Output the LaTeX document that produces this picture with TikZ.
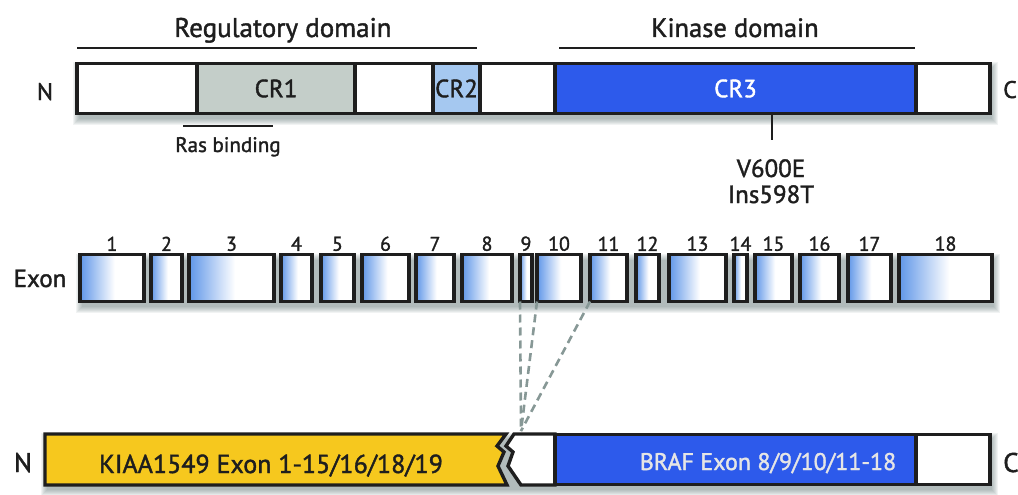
\documentclass[tikz,border=0pt]{standalone}
\usepackage{fontspec}
\setmainfont{PT Sans}[FakeBold=1.5]
\usetikzlibrary{positioning,backgrounds}

\definecolor{inkgray}{RGB}{30,30,30}
\definecolor{crgray}{RGB}{196,206,201}
\definecolor{crblue}{RGB}{165,200,240}
\definecolor{kinblue}{RGB}{45,90,235}
\definecolor{kiayellow}{RGB}{246,200,30}
\definecolor{exblue}{RGB}{95,150,232}
\definecolor{dashgray}{RGB}{135,152,150}
\definecolor{shadowtint}{RGB}{60,85,85}

% blue edge fading to white over the first half of each exon
\pgfdeclarehorizontalshading{exonfade}{100bp}{color(0bp)=(exblue); color(25bp)=(exblue); color(52bp)=(white); color(100bp)=(white)}

% soft shadow under a bar given by its top left and bottom right corners
\newcommand{\barshadow}[2]{%
    \foreach \k in {0,...,6} {
        \fill [shadowtint, opacity=0.07]
            ([xshift=2pt-\k pt, yshift=-5pt+\k pt]#1) rectangle ([xshift=2pt+\k pt, yshift=-5pt-\k pt]#2);
    }}

\begin{document}
\begin{tikzpicture}[x=1pt, y=-1pt,
    font=\fontsize{25}{28}\selectfont, text=inkgray,
    seg/.style={
        draw=inkgray,
        line width=3.4pt,
        fill=white,
        anchor=west,
        minimum height=50pt,
        inner sep=0pt,
        outer sep=0pt},
    exon/.style={
        draw=inkgray,
        line width=3.4pt,
        anchor=west,
        minimum height=47pt,
        inner sep=0pt,
        outer sep=0pt,
        shade,
        shading=exonfade,
        label distance=4pt},
    every label/.style={font=\fontsize{20}{22}\selectfont, text=inkgray},
    domline/.style={draw=inkgray, line width=2.6pt},
    fusedash/.style={draw=dashgray, line width=2.6pt, dash pattern=on 8pt off 5pt}
    ]
    \useasboundingbox (0,0) rectangle (1018,495);

    % protein domains
    \node (nterm) [seg, minimum width=120pt] at (77,88.5) {};
    \node (cr1) [seg, fill=crgray, minimum width=158pt, right=0pt of nterm] {CR1};
    \node (link1) [seg, minimum width=78pt, right=0pt of cr1] {};
    \node (cr2) [seg, fill=crblue, minimum width=47pt, right=0pt of link1] {CR2};
    \node (link2) [seg, minimum width=75pt, right=0pt of cr2] {};
    \node (cr3) [seg, fill=kinblue, text=white, minimum width=361pt, right=0pt of link2] {CR3};
    \node (cterm) [seg, minimum width=74pt, right=0pt of cr3] {};
    \node (ntop) [anchor=base, font=\fontsize{24}{26}\selectfont] at (45,100) {N};
    \node (ctop) [anchor=base west, inner sep=0pt, font=\fontsize{24}{26}\selectfont] at (1003,98) {C};

    \coordinate (regL) at (77,48);
    \coordinate (regR) at (477,48);
    \coordinate (kinL) at (559,48);
    \coordinate (kinR) at (915,48);
    \draw [domline] (regL) -- (regR);
    \draw [domline] (kinL) -- (kinR);
    \node (reglab) [anchor=base, font=\fontsize{27}{29}\selectfont] at (283,37) {Regulatory domain};
    \node (kinlab) [anchor=base, font=\fontsize{26.5}{29}\selectfont] at (735,37) {Kinase domain};

    \coordinate (rasL) at (183,126);
    \coordinate (rasR) at (273,126);
    \draw [domline] (rasL) -- (rasR);
    \node (raslab) [anchor=base, font=\fontsize{21}{23}\selectfont] at (228,152) {Ras binding};

    \coordinate (mutpos) at (772,115);
    \coordinate (mutend) at (772,140);
    \draw [domline] (mutpos) -- (mutend);
    \node (mut1) [anchor=base] at (771,177) {V600E};
    \node (mut2) [anchor=base] at (771,203) {Ins598T};

    % exons
    \node (exonlab) [anchor=base] at (40,287) {Exon};
    \node (ex1) [exon, minimum width=64pt, label=above:1] at (80,278) {};
    \node (ex2) [exon, minimum width=31pt, label=above:2] at (151,278) {};
    \node (ex3) [exon, minimum width=85pt, label=above:3] at (189,278) {};
    \node (ex4) [exon, minimum width=31pt, label=above:4] at (281,278) {};
    \node (ex5) [exon, minimum width=33pt, label=above:5] at (321,278) {};
    \node (ex6) [exon, minimum width=47pt, label=above:6] at (362,278) {};
    \node (ex7) [exon, minimum width=38pt, label=above:7] at (416,278) {};
    \node (ex8) [exon, minimum width=50pt, label=above:8] at (462,278) {};
    \node (ex9) [exon, minimum width=12pt, label=above:9] at (520,278) {};
    \node (ex10) [exon, minimum width=44pt, label=above:10] at (537,278) {};
    \node (ex11) [exon, minimum width=37pt, label=above:11] at (590,278) {};
    \node (ex12) [exon, minimum width=23pt, label=above:12] at (636,278) {};
    \node (ex13) [exon, minimum width=57pt, label=above:13] at (669,278) {};
    \node (ex14) [exon, minimum width=13pt, label=above:14] at (734,278) {};
    \node (ex15) [exon, minimum width=37pt, label=above:15] at (755,278) {};
    \node (ex16) [exon, minimum width=39pt, label=above:16] at (800,278) {};
    \node (ex17) [exon, minimum width=43pt, label=above:17] at (848,278) {};
    \node (ex18) [exon, minimum width=93pt, label=above:18] at (899,278) {};

    % fusion product
    \coordinate (kiaL) at (45,434);
    \draw [draw=inkgray, line width=3.4pt, line join=miter, fill=kiayellow]
        (kiaL) -- (506,434) -- (497,446) -- (504,452) -- (498,466) -- (507,485) -- (45,485) -- cycle;
    \draw [draw=inkgray, line width=3.4pt, line join=miter, fill=white]
        (514,434) -- (555,434) -- (555,485) -- (521,485) -- (508,466) -- (513,452) -- (506,446) -- cycle;
    \node (kiaa) [anchor=base, font=\fontsize{26}{28}\selectfont] at (271,473) {KIAA1549 Exon 1-15/16/18/19};
    \node (braf) [seg, fill=kinblue, minimum width=361pt] at (555,459.5) {};
    \node (ctail) [seg, minimum width=74pt, right=0pt of braf] {};
    \node (braflab) [anchor=base, text=white!90!black, font=\fontsize{24}{26}\selectfont] at (768,470) {BRAF Exon 8/9/10/11-18};
    \node (nbot) [anchor=base, font=\fontsize{27}{29}\selectfont] at (23,472) {N};
    \node (cbot) [anchor=base west, inner sep=0pt, font=\fontsize{27}{29}\selectfont] at (1003,472) {C};

    % breakpoints
    \coordinate (fuse) at (521,431);
    \draw [fusedash] (ex9.south west) -- (fuse);
    \draw [fusedash] (ex10.south west) -- (fuse);
    \draw [fusedash] (ex11.south west) -- (fuse);

    \begin{scope}[on background layer]
        \barshadow{nterm.north west}{cterm.south east}
        \barshadow{ex1.north west}{ex18.south east}
        \barshadow{kiaL}{ctail.south east}
    \end{scope}

\end{tikzpicture}
\end{document}
